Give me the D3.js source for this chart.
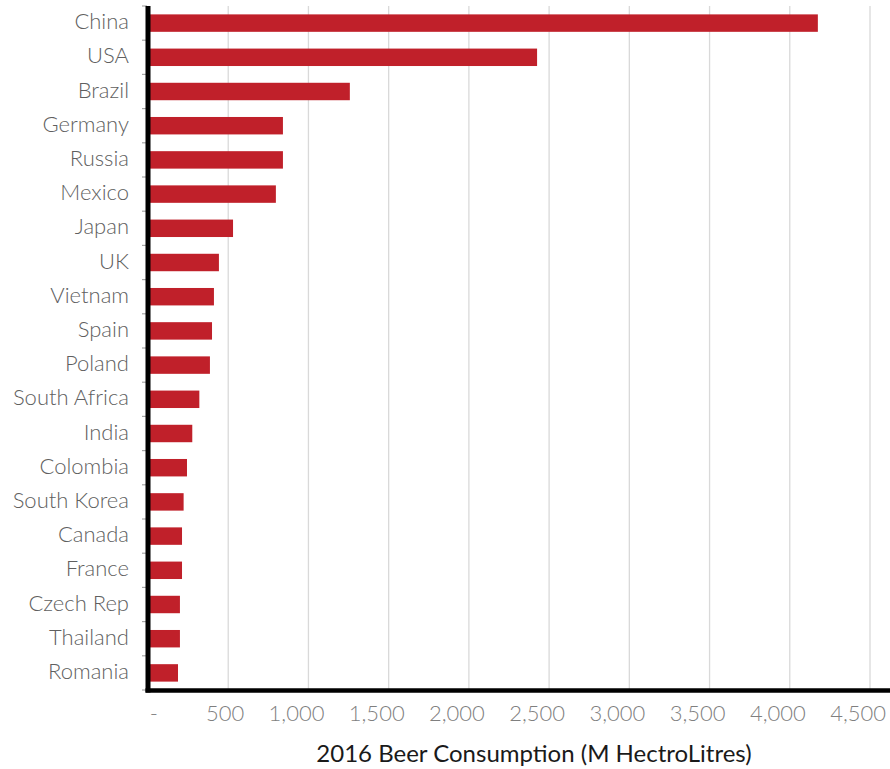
<!DOCTYPE html>
<html>
<head>
<meta charset="utf-8">
<title>2016 Beer Consumption</title>
<script src="https://d3js.org/d3.v7.min.js"></script>
<style>
  body { margin: 0; background: #fff; }
  text { font-family: Lato, "Open Sans", sans-serif; }
</style>
</head>
<body>
<div id="chart"></div>
<script>
// data
const countries = ["China", "USA", "Brazil", "Germany", "Russia", "Mexico", "Japan", "UK",
  "Vietnam", "Spain", "Poland", "South Africa", "India", "Colombia", "South Korea",
  "Canada", "France", "Czech Rep", "Thailand", "Romania"];
const consumption = [4175, 2425, 1258, 841, 841, 797, 530, 442, 411, 399, 386, 320, 276,
  243, 222, 212, 212, 199, 199, 187];
const xTicks = [0, 500, 1000, 1500, 2000, 2500, 3000, 3500, 4000, 4500];
const xTitle = "2016 Beer Consumption (M HectroLitres)";

const width = 890, height = 769;
const data = countries.map((c, i) => ({ name: c, value: consumption[i] }));

const svg = d3.select("#chart").append("svg")
    .attr("width", width)
    .attr("height", height);

const x = d3.scaleLinear().domain([0, 4500]).range([148, 870]);
const y = d3.scaleBand().domain(countries).range([6, 690]).paddingInner(0.49).paddingOuter(0.245);
const yTicks = d3.scaleBand().domain(countries).range([6, 690]);

// vertical gridlines
svg.append("g")
  .selectAll("line")
  .data(xTicks.slice(1))
  .join("line")
    .attr("x1", d => x(d)).attr("x2", d => x(d))
    .attr("y1", 6).attr("y2", 689)
    .attr("stroke", "#d9d9d9")
    .attr("stroke-width", 1.3);

// bars
svg.append("g")
  .selectAll("rect")
  .data(data)
  .join("rect")
    .attr("x", x(0) + 2)
    .attr("y", d => y(d.name))
    .attr("width", d => x(d.value) - x(0) - 2)
    .attr("height", y.bandwidth())
    .attr("fill", "#c0202a");

// small category ticks left of the axis
const bounds = countries.map(c => yTicks(c)).concat([690]);
svg.append("g")
  .selectAll("line")
  .data(bounds)
  .join("line")
    .attr("x1", 142).attr("x2", 147)
    .attr("y1", d => d).attr("y2", d => d)
    .attr("stroke", "#a6a6a6")
    .attr("stroke-width", 1.2);

// category labels
svg.append("g")
  .selectAll("text")
  .data(countries)
  .join("text")
    .attr("x", 129)
    .attr("y", d => yTicks(d) + yTicks.bandwidth() / 2)
    .attr("dy", "0.28em")
    .attr("text-anchor", "end")
    .attr("font-size", "22px")
    .attr("font-weight", 300)
    .attr("fill", "#5f5f5f")
    .text(d => d);

// axis lines
svg.append("line")
  .attr("x1", 148).attr("x2", 148)
  .attr("y1", 6).attr("y2", 692.5)
  .attr("stroke", "#000").attr("stroke-width", 5);
svg.append("line")
  .attr("x1", 145.5).attr("x2", 890)
  .attr("y1", 690.5).attr("y2", 690.5)
  .attr("stroke", "#000").attr("stroke-width", 4.5);

// x tick labels (accounting style, right aligned)
const fmt = d3.format(",");
svg.append("g")
  .selectAll("text")
  .data(xTicks)
  .join("text")
    .attr("x", d => d === 0 ? x(d) + 10 : x(d) + 16)
    .attr("y", 721)
    .attr("text-anchor", "end")
    .attr("font-size", "22px")
    .attr("font-weight", 300)
    .attr("fill", "#7f7f7f")
    .text(d => d === 0 ? "-" : fmt(d));

// axis title
svg.append("text")
  .attr("x", 534)
  .attr("y", 762)
  .attr("text-anchor", "middle")
  .attr("font-size", "24px")
  .attr("fill", "#1a1a1a")
  .text(xTitle);
</script>
</body>
</html>
